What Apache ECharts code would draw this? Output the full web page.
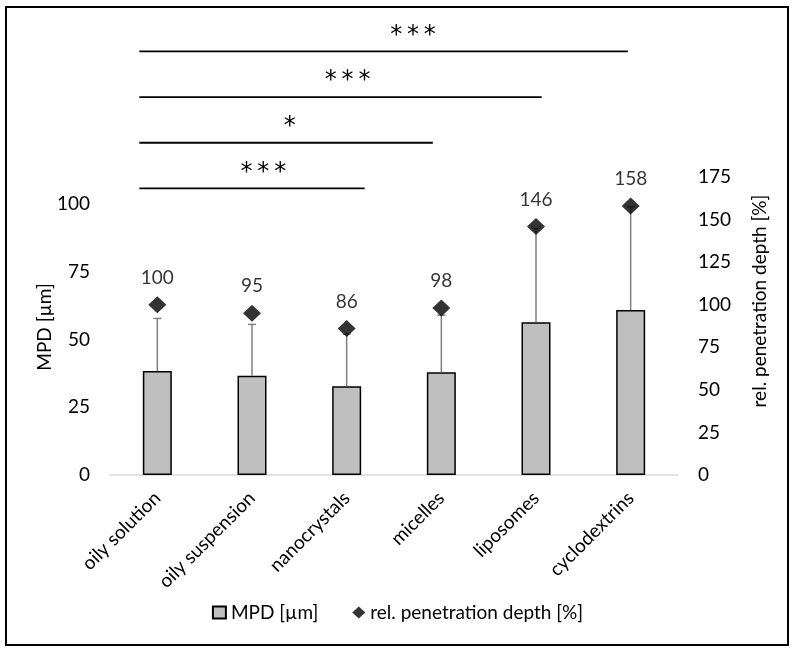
<!DOCTYPE html>
<html>
<head>
<meta charset="utf-8">
<title>MPD</title>
<script src="https://cdn.jsdelivr.net/npm/echarts@6/dist/echarts.min.js"></script>
<style>
	html, body { margin: 0; padding: 0; background: #fff; }
	#main { width: 795px; height: 654px; }
</style>
</head>
<body>
<div id="main"></div>
<script>
var categories = ["oily solution", "oily suspension", "nanocrystals", "micelles", "liposomes", "cyclodextrins"];
var mpd = [38.4, 36.6, 32.8, 37.9, 56.4, 60.9];       // MPD [µm]
var mpdUpper = [57.8, 55.6, 52.0, 59.0, 91.0, 99.0];  // mean + SD
var relDepth = [100, 95, 86, 98, 146, 158];           // rel. penetration depth [%]
var leftTicks = [0, 25, 50, 75, 100];
var rightTicks = [0, 25, 50, 75, 100, 125, 150, 175];
// significance brackets: from category, to category, stars
var sigFrom = [0, 0, 0, 0];
var sigTo = [2, 3, 4, 5];
var sigStars = ["***", "*", "***", "***"];

// layout of the brackets (left axis units / category steps)
var sigBase = 105.8, sigGap = 16.85;
var sigStartOff = -0.19;
var sigEndOff = [0.19, -0.09, 0.06, -0.03];
var sigLabelPos = [1.12, 1.40, 2.01, 2.70];

var font = "Lato";
var myChart = echarts.init(document.getElementById("main"));

var errData = [];
for(var i = 0; i < categories.length; i++) {
	errData.push([i, mpd[i], mpdUpper[i]]);
}
var sigData = [];
for(var i = 0; i < sigStars.length; i++) {
	sigData.push([sigFrom[i], sigBase + i * sigGap]);
}

function renderError(params, api) {
	var x = api.value(0);
	var p0 = api.coord([x, api.value(1)]);
	var p1 = api.coord([x, api.value(2)]);
	var style = { stroke: "#7f7f7f", lineWidth: 1.5 };
	return {
		type: "group",
		children: [{
			type: "line",
			shape: { x1: p0[0], y1: p0[1], x2: p1[0], y2: p1[1] },
			style: style
		}, {
			type: "line",
			shape: { x1: p1[0] - 4, y1: p1[1], x2: p1[0] + 4, y2: p1[1] },
			style: style
		}]
	};
}

function renderSig(params, api) {
	var i = params.dataIndex;
	var y = api.value(1);
	var c0 = api.coord([0, y]);
	var c1 = api.coord([1, y]);
	var step = c1[0] - c0[0];
	var xs = c0[0] + (sigFrom[i] + sigStartOff) * step;
	var xe = c0[0] + (sigTo[i] + sigEndOff[i]) * step;
	var xl = c0[0] + sigLabelPos[i] * step;
	return {
		type: "group",
		children: [{
			type: "line",
			shape: { x1: xs, y1: c0[1], x2: xe, y2: c0[1] },
			style: { stroke: "#000", lineWidth: 1.8 }
		}, {
			type: "text",
			x: xl,
			y: c0[1] - 16,
			style: {
				text: sigStars[i].split("").join("\u2009"),
				fill: "#000",
				font: "24px 'DejaVu Sans'",
				align: "center",
				verticalAlign: "middle"
			}
		}]
	};
}

var option = {
	animation: false,
	backgroundColor: "#fff",
	textStyle: { fontFamily: font },
	grid: {
		left: 110,
		right: 117,
		top: 177,
		bottom: 179
	},
	legend: {
		bottom: 27,
		left: "center",
		itemGap: 34,
		itemWidth: 13,
		itemHeight: 12,
		textStyle: { fontFamily: font, fontSize: 19, color: "#000" },
		data: [{
			name: "MPD [µm]",
			icon: "rect"
		}, {
			name: "rel. penetration depth [%]",
			icon: "diamond"
		}]
	},
	graphic: [{
		type: "rect",
		shape: { x: 6, y: 7, width: 782, height: 638 },
		style: { fill: "none", stroke: "#000", lineWidth: 2 },
		silent: true
	}, {
		type: "text",
		x: 45,
		y: 327,
		rotation: Math.PI / 2,
		style: {
			text: "MPD [µm]",
			font: "19px " + font,
			fill: "#000",
			align: "center",
			verticalAlign: "middle"
		}
	}, {
		type: "text",
		x: 760,
		y: 301,
		rotation: Math.PI / 2,
		style: {
			text: "rel. penetration depth [%]",
			font: "19px " + font,
			fill: "#000",
			align: "center",
			verticalAlign: "middle"
		}
	}],
	xAxis: {
		type: "category",
		data: categories,
		axisLine: { show: true, lineStyle: { color: "#d9d9d9", width: 1.5 } },
		axisTick: { show: false },
		axisLabel: {
			rotate: 45,
			interval: 0,
			margin: 20,
			color: "#000",
			fontSize: 19,
			fontFamily: font
		}
	},
	yAxis: [{
		type: "value",
		min: leftTicks[0],
		max: 110,
		interval: leftTicks[1] - leftTicks[0],
		axisLine: { show: false },
		axisTick: { show: false },
		splitLine: { show: false },
		axisLabel: {
			showMaxLabel: false,
			margin: 20,
			color: "#000",
			fontSize: 19,
			fontFamily: font
		}
	}, {
		type: "value",
		min: rightTicks[0],
		max: rightTicks[rightTicks.length - 1],
		interval: rightTicks[1] - rightTicks[0],
		axisLine: { show: false },
		axisTick: { show: false },
		splitLine: { show: false },
		axisLabel: {
			margin: 20,
			color: "#000",
			fontSize: 19,
			fontFamily: font
		}
	}],
	series: [{
		name: "MPD [µm]",
		type: "bar",
		barWidth: 29,
		yAxisIndex: 0,
		itemStyle: { color: "#bfbfbf", borderColor: "#000", borderWidth: 1.5 },
		data: mpd,
		z: 2
	}, {
		name: "error",
		type: "custom",
		yAxisIndex: 0,
		renderItem: renderError,
		data: errData,
		z: 3
	}, {
		name: "rel. penetration depth [%]",
		type: "scatter",
		yAxisIndex: 1,
		symbol: "diamond",
		symbolSize: [18, 17],
		itemStyle: { color: "#000" },
		label: {
			show: true,
			position: "top",
			distance: 9,
			color: "#000",
			fontSize: 19,
			fontFamily: font
		},
		data: relDepth,
		z: 4
	}, {
		name: "sig",
		type: "custom",
		yAxisIndex: 0,
		clip: false,
		renderItem: renderSig,
		data: sigData,
		z: 5
	}]
};
myChart.setOption(option);
</script>
</body>
</html>
